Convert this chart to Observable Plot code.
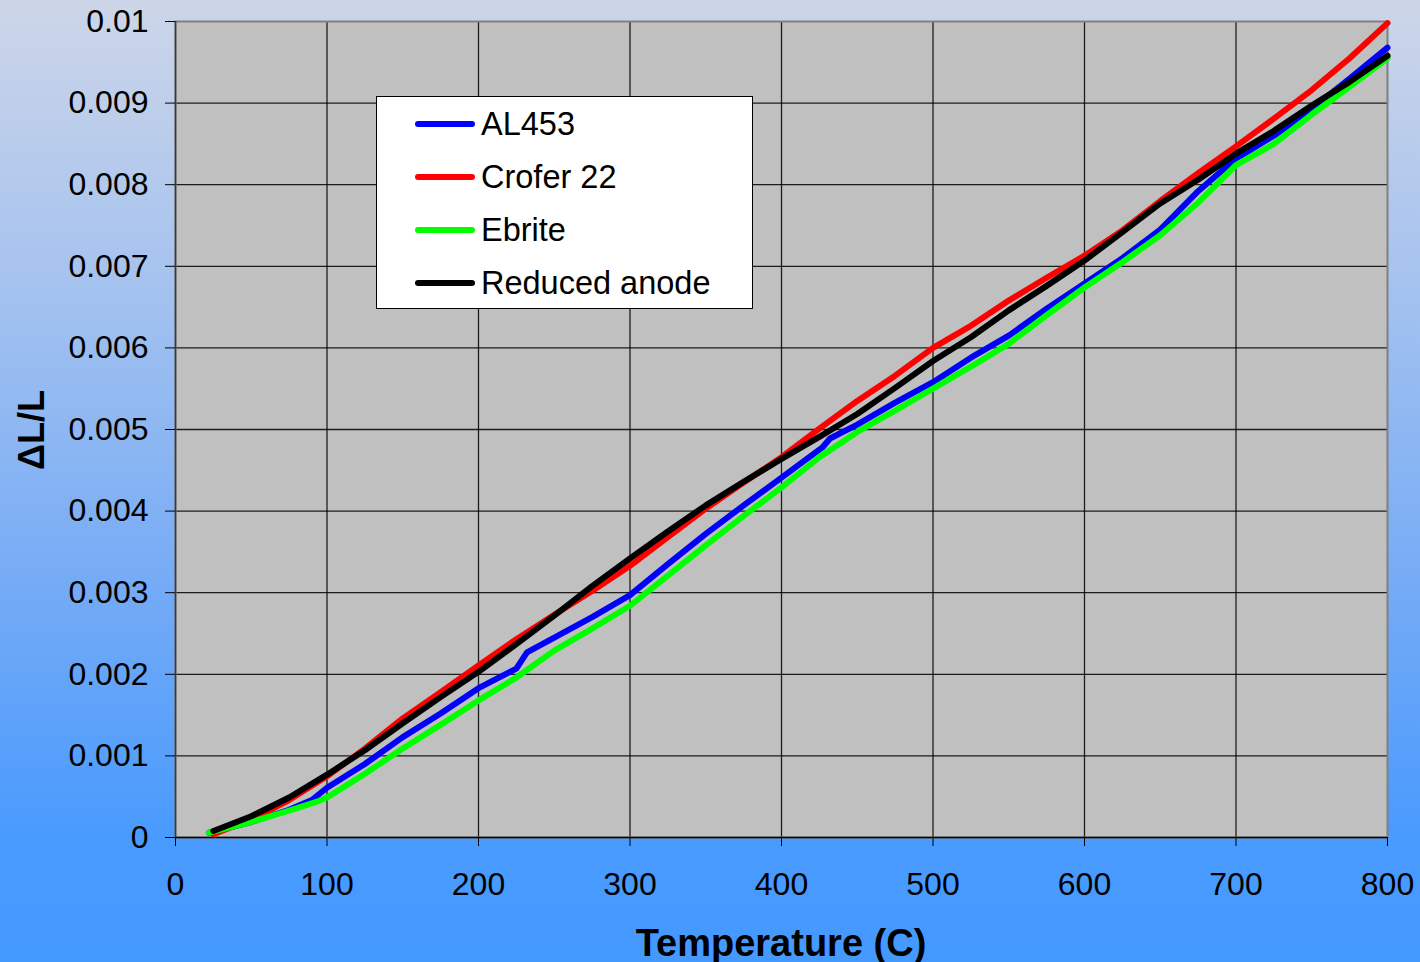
<!DOCTYPE html>
<html>
<head>
<meta charset="utf-8">
<script src="https://cdn.jsdelivr.net/npm/d3@7"></script>
<script src="https://cdn.jsdelivr.net/npm/@observablehq/plot@0.6"></script>
<style>
  html, body { margin: 0; padding: 0; }
  body {
    width: 1420px; height: 962px; overflow: hidden; position: relative;
    background: linear-gradient(180deg, #CDD6E8 0%, #A4C2EF 30%, #73AAF6 62%, #4A9BFE 86%, #4499FF 100%);
    font-family: "Liberation Sans", Arial, sans-serif;
  }
  #chart { position: absolute; left: 0; top: 0; }
  .title { position: absolute; font-weight: bold; color: #000; white-space: nowrap; }
  #xtitle { font-size: 38px; line-height: 38px; left: 0; width: 1562px; text-align: center; top: 924px; }
  #ytitle { font-size: 36px; line-height: 36px; left: 32px; top: 430px; transform: translate(-50%, -50%) rotate(-90deg); }
  #legend { position: absolute; left: 376px; top: 96px; width: 375px; height: 211px; background: #fff; border: 1px solid #000; }
  .item { position: absolute; left: 0; height: 40px; width: 370px; }
  .swatch { position: absolute; left: 38px; width: 60px; height: 6px; border-radius: 3px; top: 17px; }
  .lab { position: absolute; left: 104px; top: 0; font-size: 32.5px; line-height: 40px; color: #000; white-space: nowrap; }
</style>
</head>
<body>
<div id="chart"></div>
<div id="legend"></div>
<div class="title" id="xtitle">Temperature (C)</div>
<div class="title" id="ytitle">ΔL/L</div>
<script>
// ---- data ----
const seriesNames = ["AL453", "Crofer 22", "Ebrite", "Reduced anode"];
const seriesColors = ["#0000FF", "#FF0000", "#00FF00", "#000000"];

const tempAL453 = [22, 50, 75, 90, 100, 125, 150, 175, 200, 225, 232, 250, 275, 300, 325, 350, 375, 400, 427, 432, 450, 475, 500, 525, 550, 575, 600, 625, 650, 675, 700, 725, 750, 775, 800];
const valAL453  = [0.00006, 0.00019, 0.00034, 0.00046, 0.00061, 0.00090, 0.00123, 0.00152, 0.00183, 0.00207, 0.00227, 0.00245, 0.00270, 0.00297, 0.00335, 0.00372, 0.00407, 0.00441, 0.00478, 0.00489, 0.00506, 0.00533, 0.00558, 0.00588, 0.00615, 0.00648, 0.00679, 0.00710, 0.00745, 0.00792, 0.00832, 0.00860, 0.00893, 0.00930, 0.00968];

const tempCrofer = [25, 50, 75, 100, 125, 150, 175, 200, 225, 250, 275, 300, 325, 350, 375, 400, 425, 450, 475, 500, 525, 550, 575, 600, 625, 650, 675, 700, 725, 750, 775, 800];
const valCrofer  = [0.00004, 0.00022, 0.00046, 0.00075, 0.00109, 0.00146, 0.00178, 0.00211, 0.00243, 0.00273, 0.00302, 0.00333, 0.00368, 0.00403, 0.00435, 0.00466, 0.00501, 0.00535, 0.00566, 0.00600, 0.00627, 0.00658, 0.00686, 0.00713, 0.00744, 0.00780, 0.00814, 0.00847, 0.00881, 0.00916, 0.00955, 0.00998];

const tempEbrite = [22, 50, 75, 95, 100, 125, 150, 175, 200, 225, 250, 275, 300, 325, 350, 375, 400, 425, 450, 475, 500, 525, 550, 575, 600, 625, 650, 675, 700, 725, 750, 775, 800];
const valEbrite  = [0.00006, 0.00019, 0.00033, 0.00045, 0.00049, 0.00078, 0.00109, 0.00138, 0.00168, 0.00196, 0.00229, 0.00256, 0.00284, 0.00321, 0.00358, 0.00394, 0.00429, 0.00466, 0.00497, 0.00523, 0.00550, 0.00577, 0.00605, 0.00640, 0.00674, 0.00705, 0.00738, 0.00778, 0.00824, 0.00850, 0.00886, 0.00920, 0.00955];

const tempAnode = [25, 50, 75, 100, 125, 150, 175, 200, 225, 250, 275, 300, 325, 350, 375, 400, 425, 450, 475, 500, 525, 550, 575, 600, 625, 650, 675, 700, 725, 750, 775, 800];
const valAnode  = [0.00008, 0.00026, 0.00049, 0.00077, 0.00107, 0.00140, 0.00172, 0.00203, 0.00237, 0.00272, 0.00308, 0.00342, 0.00375, 0.00407, 0.00436, 0.00464, 0.00491, 0.00519, 0.00551, 0.00584, 0.00613, 0.00646, 0.00676, 0.00707, 0.00742, 0.00777, 0.00806, 0.00838, 0.00866, 0.00897, 0.00926, 0.00958];

const xTicks = [0, 100, 200, 300, 400, 500, 600, 700, 800];
const yTicks = [0, 0.001, 0.002, 0.003, 0.004, 0.005, 0.006, 0.007, 0.008, 0.009, 0.01];
const yTickLabels = ["0", "0.001", "0.002", "0.003", "0.004", "0.005", "0.006", "0.007", "0.008", "0.009", "0.01"];

// ---- build rows ----
const toRows = (name, ts, vs) => ts.map((t, i) => ({series: name, t, v: vs[i]}));
const rows = [
  toRows(seriesNames[0], tempAL453, valAL453),
  toRows(seriesNames[1], tempCrofer, valCrofer),
  toRows(seriesNames[2], tempEbrite, valEbrite),
  toRows(seriesNames[3], tempAnode, valAnode)
];

const innerX = xTicks.filter(d => d > 0 && d < 800);
const innerY = yTicks.filter(d => d > 0 && d < 0.01);

const chart = Plot.plot({
  width: 1420,
  height: 962,
  marginLeft: 175,
  marginRight: 33,
  marginTop: 21,
  marginBottom: 125,
  style: {background: "transparent", color: "#000", fontFamily: "'Liberation Sans', Arial, sans-serif", fontSize: "32px"},
  x: {domain: [0, 800]},
  y: {domain: [0, 0.01]},
  marks: [
    Plot.frame({fill: "#C0C0C0", stroke: null}),
    Plot.ruleX(innerX, {stroke: "#000", strokeWidth: 1.3, strokeOpacity: 0.85}),
    Plot.ruleY(innerY, {stroke: "#000", strokeWidth: 1.3, strokeOpacity: 0.85}),
    Plot.frame({stroke: "#808080", strokeWidth: 2}),
    Plot.ruleX([0], {stroke: "#3a3a3a", strokeWidth: 1.5}),
    Plot.ruleY([0], {stroke: "#000", strokeWidth: 1.5}),
    ...rows.map((r, i) => Plot.line(r, {
      x: "t", y: "v", stroke: seriesColors[i], strokeWidth: 6,
      strokeLinecap: "round", strokeLinejoin: "round"
    })),
    Plot.axisX({ticks: xTicks, tickSize: 9, tickPadding: 26, fontSize: 32, label: null, tickFormat: d => String(d)}),
    Plot.axisY({ticks: yTicks, tickSize: 10, tickPadding: 17, fontSize: 32, label: null,
      tickFormat: d => yTickLabels[yTicks.findIndex(v => Math.abs(v - d) < 1e-9)]})
  ]
});
document.getElementById("chart").appendChild(chart);

// ---- legend ----
const legend = document.getElementById("legend");
seriesNames.forEach((name, i) => {
  const item = document.createElement("div");
  item.className = "item";
  item.style.top = (7 + i * 53) + "px";
  const sw = document.createElement("div");
  sw.className = "swatch";
  sw.style.background = seriesColors[i];
  const lab = document.createElement("div");
  lab.className = "lab";
  lab.textContent = name;
  item.appendChild(sw);
  item.appendChild(lab);
  legend.appendChild(item);
});
</script>
</body>
</html>
